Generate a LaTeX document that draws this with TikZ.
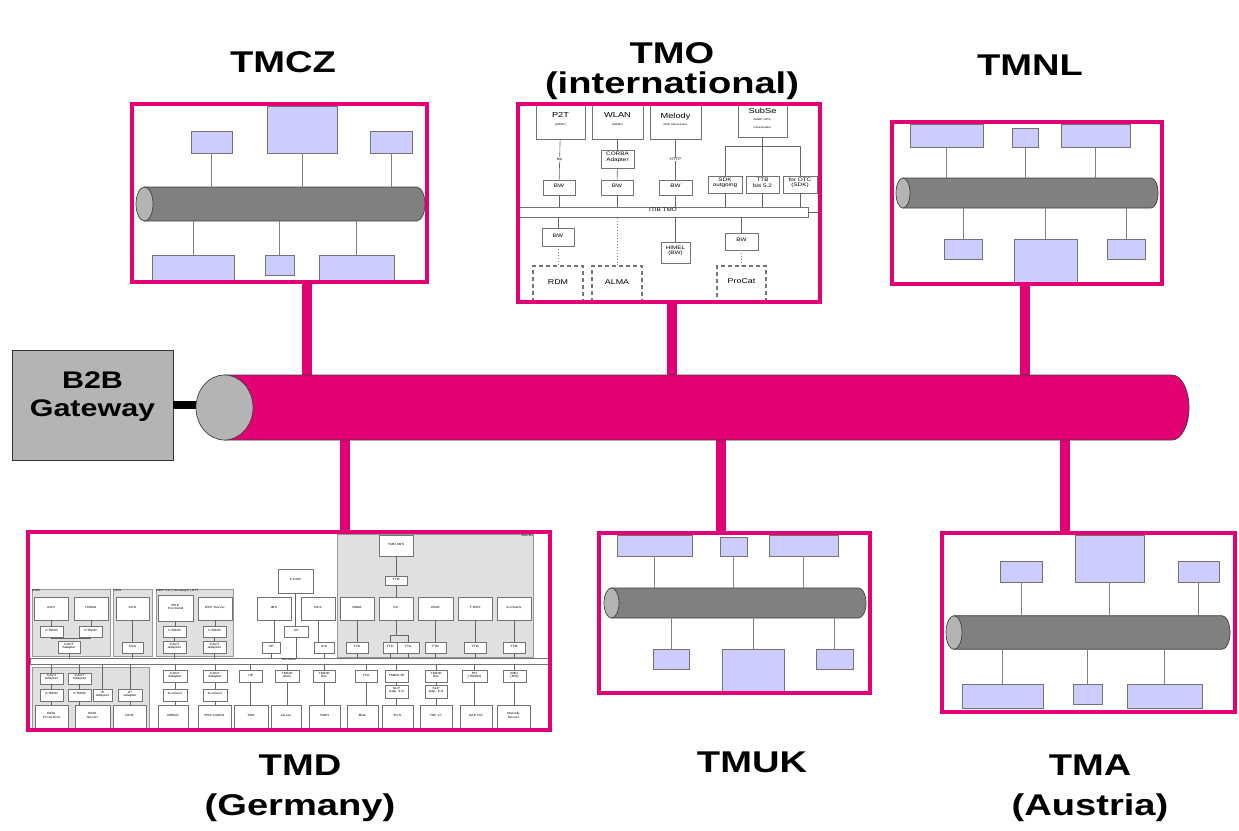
\documentclass[tikz,border=0pt]{standalone}
\usepackage{fontspec}
\setmainfont[FakeStretch=1.27]{Liberation Sans}
\usetikzlibrary{positioning, fit, calc, arrows.meta}

\definecolor{tmag}{HTML}{E20074}
\definecolor{lav}{HTML}{CCCCFF}
\definecolor{cylbody}{HTML}{808080}
\definecolor{cylcap}{HTML}{B4B4B4}

% cylinder: left cap x, right cap x, centre y, half height, left rx, right rx, body, cap
\newcommand{\cylbar}[8]{%
  \filldraw[fill=#7, draw=black!75, line width=0.7pt]
    (#1,#3-#4) -- (#2,#3-#4)
    arc[start angle=-90, end angle=90, x radius=#6, y radius=#4]
    -- (#1,#3+#4) -- cycle;
  \filldraw[fill=#8, draw=black!75, line width=0.7pt]
    (#1,#3) ellipse[x radius=#5, y radius=#4];
}
% box between two corners
\newcommand{\blk}[5]{\node[#1, fit={(#2) (#3)}] (#4) {#5};}
\newcommand{\subl}[1]{{\fontsize{2.6}{3}\selectfont #1}}

\begin{document}
\begin{tikzpicture}
    [
        x=1pt, y=-1pt,
        frame/.style={fill=white, inner sep=0pt},
        frameline/.style={draw=tmag, line width=4.5pt},
        stub/.style={draw=tmag, line width=9.5pt},
        lb/.style={draw=black!55, fill=lav, line width=0.8pt, inner sep=0pt},
        tap/.style={draw=black!50, line width=0.9pt},
        pb/.style={draw=black!55, fill=white, line width=0.7pt, inner sep=0pt, align=center, font=\fontsize{5}{5.5}\selectfont},
        tb/.style={pb, font=\fontsize{7.3}{7.5}\selectfont},
        sb/.style={pb, line width=0.5pt, font=\fontsize{3}{3.3}\selectfont},
        db/.style={pb, dash pattern=on 4pt off 3pt, line width=1.3pt, font=\fontsize{7}{8}\selectfont},
        grp/.style={draw=black!40, fill=black!12, line width=0.6pt, inner sep=0pt},
        tl/.style={draw=black!60, line width=0.6pt},
        dl/.style={draw=black!45, line width=0.9pt, dotted},
        title/.style={font=\fontsize{30}{40}\selectfont\bfseries, align=center},
        lbl/.style={fill=white, inner sep=0.5pt, font=\fontsize{3.5}{4}\selectfont}
    ]
    \useasboundingbox (0,0) rectangle (1239,830);

    % =====================================================================
    % FRAMES AND MAIN BUS
    % =====================================================================
    \node[frame, fit={(132,104) (427,282)}] (tmcz) {};
    \node[frame, fit={(518,104) (820,302)}] (tmo) {};
    \node[frame, fit={(892,122) (1162,284)}] (tmnl) {};
    \node[frame, fit={(28,532) (550,730)}] (tmd) {};
    \node[frame, fit={(599,533) (870,693)}] (tmuk) {};
    \node[frame, fit={(942,533) (1235,712)}] (tma) {};
    \node[fit={(196,375) (1189,440)}, inner sep=0pt] (bus) {};

    \coordinate (xcz) at (307,0);
    \coordinate (xmo) at (672,0);
    \coordinate (xnl) at (1025,0);
    \coordinate (xmd) at (345,0);
    \coordinate (xuk) at (721,0);
    \coordinate (xma) at (1065,0);
    \draw[stub] (xcz |- tmcz.south) -- (xcz |- bus.north);
    \draw[stub] (xmo |- tmo.south) -- (xmo |- bus.north);
    \draw[stub] (xnl |- tmnl.south) -- (xnl |- bus.north);
    \draw[stub] (xmd |- bus.south) -- (xmd |- tmd.north);
    \draw[stub] (xuk |- bus.south) -- (xuk |- tmuk.north);
    \draw[stub] (xma |- bus.south) -- (xma |- tma.north);

    \node[draw=black!80, fill=cylcap, line width=0.8pt, fit={(12,350) (173,460)}, inner sep=0pt,
          align=center, font=\fontsize{24}{28}\selectfont\bfseries] (gw) {B2B\\Gateway};
    \draw[line width=8pt] (gw.east) -- (gw.east -| bus.west);
    \cylbar{224.5}{1172}{407.5}{32.5}{28.5}{17}{tmag}{cylcap}

    % --- titles
    \node[title] (tczt) at (283,62) {TMCZ};
    \node[title, font=\fontsize{30}{30}\selectfont\bfseries, anchor=south] (tmot) at (672,103) {TMO\\(international)};
    \node[title] (tnlt) at (1030,65) {TMNL};
    \node[title] (tmdt) at (300,788) {TMD\\(Germany)};
    \node[title] (tukt) at (752,762) {TMUK};
    \node[title] (tmat) at (1090,788) {TMA\\(Austria)};

    % =====================================================================
    % TMCZ
    % =====================================================================
    \cylbar{144.5}{416.5}{204}{17}{8.5}{8.5}{cylbody}{cylcap}
    \node[fit={(136,187) (425,221)}, inner sep=0pt] (czbus) {};
    \blk{lb}{191,131}{232,153}{cz1}{}
    \blk{lb}{267,106}{337,153}{cz2}{}
    \blk{lb}{370,131}{412,153}{cz3}{}
    \blk{lb}{152,255}{234,280}{cz4}{}
    \blk{lb}{265,255}{294,275}{cz5}{}
    \blk{lb}{319,255}{394,280}{cz6}{}
    \foreach \n in {cz1,cz2,cz3} \draw[tap] (\n.south) -- (\n.south |- czbus.north);
    \foreach \n in {cz4,cz5,cz6} \draw[tap] (\n.north) -- (\n.north |- czbus.south);

    % =====================================================================
    % TMNL
    % =====================================================================
    \cylbar{903}{1151}{193}{15}{7}{7}{cylbody}{cylcap}
    \node[fit={(896,178) (1158,208)}, inner sep=0pt] (nlbus) {};
    \blk{lb}{910,124}{983,147}{nl1}{}
    \blk{lb}{1012,128}{1038,147}{nl2}{}
    \blk{lb}{1061,124}{1130,147}{nl3}{}
    \blk{lb}{944,239}{982,259}{nl4}{}
    \blk{lb}{1014,239}{1077,282}{nl5}{}
    \blk{lb}{1107,239}{1145,259}{nl6}{}
    \foreach \n in {nl1,nl2,nl3} \draw[tap] (\n.south) -- (\n.south |- nlbus.north);
    \foreach \n in {nl4,nl5,nl6} \draw[tap] (\n.north) -- (\n.north |- nlbus.south);

    % =====================================================================
    % TMUK
    % =====================================================================
    \cylbar{611.5}{858.5}{603}{15}{7.5}{7.5}{cylbody}{cylcap}
    \node[fit={(604,588) (866,618)}, inner sep=0pt] (ukbus) {};
    \blk{lb}{617,535}{692,556}{uk1}{}
    \blk{lb}{720,537}{747,556}{uk2}{}
    \blk{lb}{769,535}{838,556}{uk3}{}
    \blk{lb}{653,649}{689,669}{uk4}{}
    \blk{lb}{722,649}{784,691}{uk5}{}
    \blk{lb}{816,649}{853,669}{uk6}{}
    \foreach \n in {uk1,uk2,uk3} \draw[tap] (\n.south) -- (\n.south |- ukbus.north);
    \foreach \n in {uk4,uk5,uk6} \draw[tap] (\n.north) -- (\n.north |- ukbus.south);

    % =====================================================================
    % TMA
    % =====================================================================
    \cylbar{954}{1222}{632.5}{16.8}{8}{8}{cylbody}{cylcap}
    \node[fit={(946,616) (1230,649)}, inner sep=0pt] (mabus) {};
    \blk{lb}{1000,561}{1042,582}{ma1}{}
    \blk{lb}{1075,535}{1144,582}{ma2}{}
    \blk{lb}{1178,561}{1219,582}{ma3}{}
    \blk{lb}{962,684}{1043,708}{ma4}{}
    \blk{lb}{1073,684}{1102,704}{ma5}{}
    \blk{lb}{1127,684}{1202,708}{ma6}{}
    \foreach \n in {ma1,ma2,ma3} \draw[tap] (\n.south) -- (\n.south |- mabus.north);
    \foreach \n in {ma4,ma5,ma6} \draw[tap] (\n.north) -- (\n.north |- mabus.south);

    % =====================================================================
    % TMO
    % =====================================================================
    \blk{tb}{536,105}{585,139}{p2t}{P2T\\\subl{(ABBP)}}
    \blk{tb}{592,105}{643,139}{wlan}{WLAN\\\subl{(ABBP)}}
    \blk{tb}{650,105}{701,139}{melody}{Melody\\\subl{ABK Orkestrator}}
    \blk{tb}{738,105}{787,137}{subse}{SubSe\\\subl{ABBP, OPS,}\\\subl{Infrastruktur}}
    \blk{pb}{601,150}{634,168}{corba}{CORBA\\Adapter}
    \blk{pb}{543,180}{575,195}{bw1}{BW}
    \blk{pb}{601,180}{633,195}{bw2}{BW}
    \blk{pb}{659,180}{692,195}{bw3}{BW}
    \blk{pb}{708,176}{742,193}{sdk}{SDK\\outgoing}
    \blk{pb}{746,176}{779,193}{ttb}{TTB\\bis 5.2}
    \blk{pb}{783,176}{817,193}{otc}{for OTC\\(SDK)}
    \blk{pb}{518,207}{808,217}{itib}{ITIB TMO}
    \blk{pb}{542,228}{574,246}{bw4}{BW}
    \blk{pb}{661,242}{690,263}{himel}{HIMEL\\(BW)}
    \blk{pb}{725,233}{758,250}{bw5}{BW}
    \blk{db}{533,266}{583,302}{rdm}{RDM}
    \blk{db}{592,266}{642,302}{alma}{ALMA}
    \blk{db}{717,266}{766,302}{procat}{ProCat}

    \draw[tl] (p2t) -- node[lbl] {ftp} (bw1);
    \draw[tl] (wlan) -- (corba);
    \draw[tl] (corba) -- (bw2);
    \draw[tl] (melody) -- node[lbl] {HTTP} (bw3);
    \coordinate (sjoin) at ($(subse.south)+(0,9)$);
    \draw[tl] (subse.south) -- (sjoin);
    \draw[tl] (sdk.north |- sjoin) -- (otc.north |- sjoin);
    \foreach \n in {sdk,ttb,otc} \draw[tl] (\n.north |- sjoin) -- (\n.north);
    \foreach \n in {bw1,bw2,bw3,sdk,ttb,otc} \draw[tl] (\n.south) -- (\n.south |- itib.north);
    \draw[tl] (itib.east) -- (itib.east -| tmo.east);
    \draw[tl] (bw4.north) -- (bw4.north |- itib.south);
    \draw[tl] (himel.north) -- (himel.north |- itib.south);
    \draw[tl] (bw5.north) -- (bw5.north |- itib.south);
    \draw[dl] (bw4) -- (rdm);
    \draw[dl] (alma.north) -- (alma.north |- itib.south);
    \draw[dl] (bw5) -- (procat);

    % =====================================================================
    % TMD
    % =====================================================================
    \blk{grp}{32,589}{110,656}{gesb}{}
    \blk{grp}{113,589}{152,656}{gcks}{}
    \blk{grp}{156,589}{233,656}{gbrp}{}
    \blk{grp}{337,534}{533,657}{gkern}{}
    \blk{grp}{32,667}{149,728}{gboa}{}
    \node[anchor=north west, inner sep=0.5pt, font=\fontsize{3}{3}\selectfont] at (gesb.north west) {ESB};
    \node[anchor=north west, inner sep=0.5pt, font=\fontsize{3}{3}\selectfont] at (gcks.north west) {CKS};
    \node[anchor=north west, inner sep=0.5pt, font=\fontsize{3}{3}\selectfont] at (gbrp.north west) {BRP KU | Genesys | CTI};
    \node[anchor=north east, inner sep=0.5pt, font=\fontsize{3}{3}\selectfont] at (gkern.north east) {Kernel};

    % --- upper row
    \blk{sb}{34,597}{68,620}{ass}{ASS}
    \blk{sb}{74,597}{108,620}{h2b}{H2BAI}
    \blk{sb}{40,626}{63,637}{cti1}{CTI800}
    \blk{sb}{79,626}{102,637}{cti2}{CTI800}
    \blk{sb}{58,641}{80,653}{cavt1}{CAVT\\Adapter}
    \blk{sb}{116,597}{149,620}{cks}{CKS}
    \blk{sb}{122,642}{143,653}{fsa}{FSA}
    \blk{sb}{158,595}{193,621}{ekpf}{EKP\\Frontend}
    \blk{sb}{198,597}{232,620}{ekps}{EKP Server}
    \blk{sb}{163,626}{186,637}{cti3}{CTI800}
    \blk{sb}{203,626}{226,637}{cti4}{CTI800}
    \blk{sb}{163,641}{186,653}{cavt2}{CAVT\\Adapter}
    \blk{sb}{203,641}{226,653}{cavt3}{CAVT\\Adapter}
    \blk{sb}{278,569}{313,593}{ccos}{CCOS}
    \blk{sb}{257,597}{291,620}{ibs}{IBS}
    \blk{sb}{301,597}{335,620}{hcx}{HCX}
    \blk{sb}{284,626}{308,637}{ipa}{+IP}
    \blk{sb}{262,642}{280,653}{ipb}{+IP}
    \blk{sb}{314,642}{334,653}{ipc}{IUS}
    \blk{sb}{379,535}{413,556}{mis}{TMD MIS}
    \blk{sb}{385,576}{407,585}{ttb0}{TTB}
    \blk{sb}{340,597}{374,620}{wma}{WMA}
    \blk{sb}{379,597}{413,620}{cc}{CC}
    \blk{sb}{418,597}{453,620}{bvm}{BVM}
    \blk{sb}{458,597}{492,620}{trex}{T-REX}
    \blk{sb}{497,597}{531,620}{achart}{A-Charts}
    \blk{sb}{346,642}{368,653}{tta1}{TTA}
    \blk{sb}{383,642}{397,653}{ttd1}{TTD}
    \blk{sb}{397,642}{419,653}{tta2}{TTA}
    \blk{sb}{425,642}{446,653}{ttd2}{TTD}
    \blk{sb}{464,642}{486,653}{ttb1}{TTB}
    \blk{sb}{503,642}{525,653}{ttb2}{TTB}
    \blk{sb}{30,658}{548,664}{tmdbus}{Kernbus}

    % --- lower rows
    \blk{sb}{40,673}{63,684}{cavt4}{CAVT\\Adapter}
    \blk{sb}{68,673}{91,684}{cavt5}{CAVT\\Adapter}
    \blk{sb}{40,689}{63,701}{cti5}{CTI800}
    \blk{sb}{68,689}{91,701}{cti6}{CTI800}
    \blk{sb}{93,689}{112,701}{ipad1}{IP\\Adapter}
    \blk{sb}{118,689}{142,701}{ipad2}{IP\\adapter}
    \blk{sb}{35,705}{68,728}{boaf}{BOA\\Front End}
    \blk{sb}{75,705}{110,728}{boas}{BOA\\Server}
    \blk{sb}{113,705}{146,728}{dcr}{DCR}
    \blk{sb}{163,670}{187,682}{cavt6}{CAVT\\Adapter}
    \blk{sb}{163,689}{187,701}{conn1}{Connect}
    \blk{sb}{203,670}{227,682}{cavt7}{CAVT\\Adapter}
    \blk{sb}{203,689}{227,701}{conn2}{Connect}
    \blk{sb}{239,670}{262,682}{ip2}{+IP}
    \blk{sb}{275,670}{299,682}{tmdd1}{TMDD\\(BA)}
    \blk{sb}{313,670}{335,682}{tmdd2}{TMDD\\BA}
    \blk{sb}{355,670}{377,682}{tta3}{TTA}
    \blk{sb}{385,670}{408,682}{tmddri}{TMDD-RI}
    \blk{sb}{425,670}{447,682}{tmdd3}{TMDD\\BA}
    \blk{sb}{462,670}{487,682}{ph}{PH\\(TMDD)}
    \blk{sb}{503,670}{526,682}{wel}{WEL\\(RH)}
    \blk{sb}{385,685}{408,698}{slp1}{SLP\\Adp. 4.0}
    \blk{sb}{425,685}{447,698}{slp2}{SLP\\Adp. 5.0}
    \blk{sb}{158,705}{188,728}{mbgs}{MBGS}
    \blk{sb}{198,705}{231,728}{esc}{ESC PAIES}
    \blk{sb}{234,705}{268,728}{tbs}{TBS}
    \blk{sb}{271,705}{301,728}{ecare}{eCare}
    \blk{sb}{309,705}{340,728}{swh}{SWH}
    \blk{sb}{347,705}{378,728}{bisk}{Bisk}
    \blk{sb}{382,705}{413,728}{evs}{EVS}
    \blk{sb}{420,705}{452,728}{taf}{TAF 17}
    \blk{sb}{460,705}{492,728}{sapist}{SAP IST}
    \blk{sb}{497,705}{530,728}{melsrv}{Melody\\Server}

    % --- TMD links
    \foreach \a/\b in {ass/cti1, h2b/cti2, cks/fsa, ekpf/cti3, ekps/cti4, cti3/cavt2, cti4/cavt3,
                       ccos/ipa, ibs/ipb, hcx/ipc, mis/ttb0, ttb0/cc, wma/tta1, bvm/ttd2,
                       trex/ttb1, achart/ttb2,
                       cavt4/cti5, cavt5/cti6, cti5/boaf, cti6/boas, ipad2/dcr,
                       cavt6/conn1, conn1/mbgs, cavt7/conn2, conn2/esc, ip2/tbs, tmdd1/ecare,
                       tmdd2/swh, tta3/bisk, tmddri/slp1, slp1/evs, tmdd3/slp2, slp2/taf,
                       ph/sapist, wel/melsrv}
        \draw[tl] (\a.south) -- (\a.south |- \b.north);
    \draw[tl] (cti1.south) |- ($(cavt1.north)+(0,-2)$) -| (cti2.south);
    \draw[tl] (cc.south) -- ($(cc.south)+(0,15)$) coordinate (ccj);
    \draw[tl] (ttd1.north |- ccj) -- (tta2.north |- ccj);
    \draw[tl] (ttd1.north |- ccj) -- (ttd1.north);
    \draw[tl] (tta2.north |- ccj) -- (tta2.north);
    \foreach \n in {cavt1, fsa, cavt2, cavt3, ipa, ipb, ipc, tta1, ttd1, tta2, ttd2, ttb1, ttb2}
        \draw[tl] (\n.south) -- (\n.south |- tmdbus.north);
    \foreach \n in {cavt4, cavt5, ipad1, ipad2, cavt6, cavt7, ip2, tmdd1, tmdd2, tta3, tmddri, tmdd3, ph, wel}
        \draw[tl] (\n.north) -- (\n.north |- tmdbus.south);

    % --- frame borders on top
    \foreach \f in {tmcz, tmo, tmnl, tmd, tmuk, tma}
        \draw[frameline] (\f.south west) rectangle (\f.north east);
\end{tikzpicture}
\end{document}
